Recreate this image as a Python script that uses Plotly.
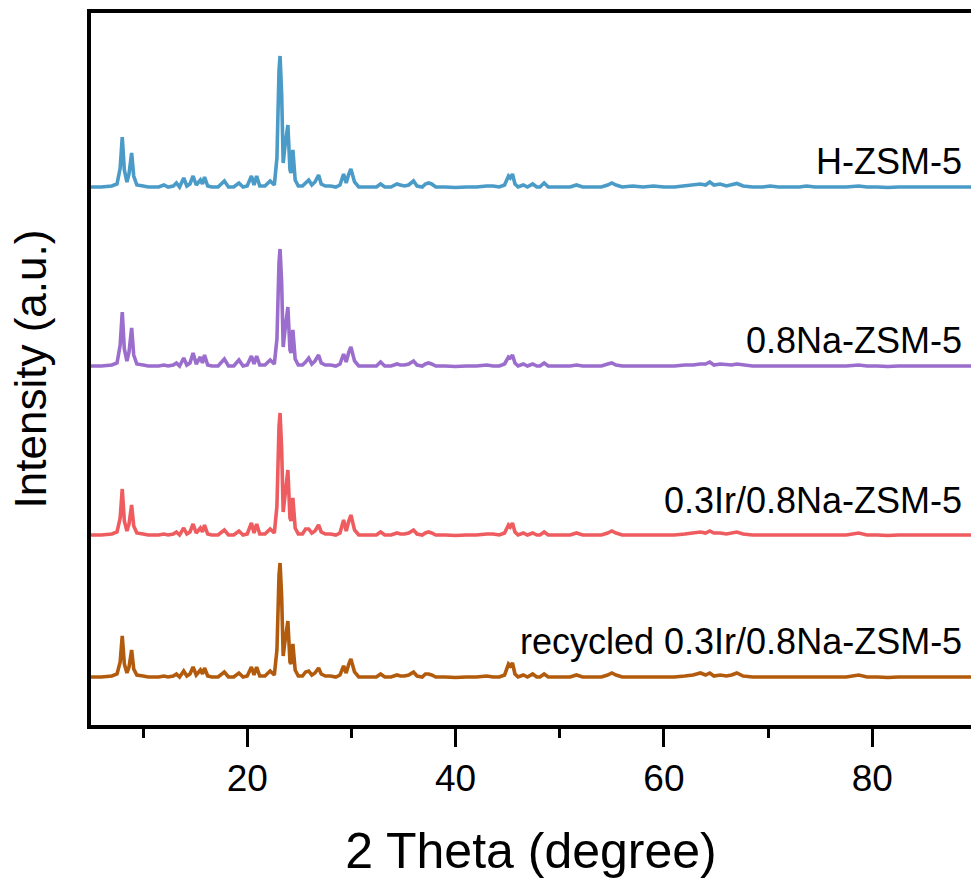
import plotly.graph_objects as go

# 2-theta grid (degrees) shared by all patterns
two_theta = [
    5.0, 6.0, 7.0, 7.5, 7.8, 8.0, 8.2, 8.45, 8.65, 8.9,
    9.1, 9.4, 10.0, 10.5, 11.0, 11.5, 12.0, 12.4, 12.9, 13.2,
    13.5, 13.9, 14.2, 14.5, 14.8, 15.1, 15.5, 15.7, 15.9, 16.2,
    16.6, 17.2, 17.8, 18.2, 18.7, 19.2, 19.6, 20.0, 20.4, 20.65,
    20.9, 21.2, 21.7, 22.2, 22.6, 22.85, 23.05, 23.15, 23.3, 23.45,
    23.6, 23.9, 24.1, 24.2, 24.38, 24.6, 24.9, 25.3, 25.6, 25.9,
    26.2, 26.5, 26.85, 27.1, 27.5, 28.0, 28.5, 28.9, 29.25, 29.5,
    29.75, 29.95, 30.3, 30.7, 31.3, 32.0, 32.4, 32.8, 33.2, 33.8,
    34.0, 34.37, 34.7, 35.1, 35.5, 35.96, 36.3, 36.8, 37.1, 37.4,
    37.7, 38.1, 39.0, 40.0, 41.0, 42.0, 43.0, 43.6, 44.2, 44.7,
    45.08, 45.25, 45.46, 45.7, 46.0, 46.5, 46.9, 47.4, 47.8, 48.1,
    48.5, 48.9, 49.5, 50.2, 51.0, 51.6, 52.2, 53.0, 54.0, 54.6,
    55.0, 55.4, 56.0, 57.0, 58.0, 59.0, 60.0, 61.0, 62.0, 62.8,
    63.5, 64.0, 64.4, 64.8, 65.4, 66.0, 66.5, 67.0, 67.6, 68.5,
    69.5, 70.2, 71.0, 72.0, 73.0, 73.7, 74.5, 75.5, 76.5, 77.5,
    78.7, 79.5, 80.5, 81.5, 82.5, 83.5, 84.5, 85.5, 86.5, 87.5,
    88.5, 89.5, 90.0,
]

# Intensities (a.u.)
int_h_zsm5 = [
    1, 1, 2, 4, 20, 51, 18, 6, 14, 35,
    12, 3, 2, 1, 1, 1, 3, 1, 2, 5,
    1, 10, 2, 4, 12, 3, 8, 4, 11, 2,
    1, 1, 7, 1, 1, 5, 1, 2, 12, 3,
    12, 2, 2, 7, 3, 30, 118, 132, 95, 25,
    40, 63, 18, 15, 38, 8, 2, 2, 5, 8,
    3, 6, 13, 4, 2, 2, 1, 3, 14, 5,
    14, 19, 6, 1, 1, 1, 1, 4, 1, 1,
    2, 4, 3, 2, 3, 7, 2, 1, 4, 5,
    4, 1, 1, 0.5, 1, 1, 2, 2, 1, 3,
    12, 10, 14, 4, 1, 3, 1, 4, 1, 1,
    5, 1, 1, 1, 1, 3, 1, 1, 1, 3,
    5, 3, 1, 2, 1, 2, 1, 1, 2, 3,
    4, 3, 6, 3, 4, 2, 3, 4.5, 2, 1,
    1, 2, 1, 1, 1, 2, 1, 1, 1, 1,
    2, 1, 1, 0.5, 1, 1, 1, 0.5, 1, 1,
    1, 1, 1,
]
int_na_zsm5 = [
    1, 1, 2, 4, 22, 55, 18, 6, 15, 39,
    12, 3, 2, 1, 1, 1, 2, 1, 2, 4,
    1, 9, 2, 4, 14, 3, 10, 4, 12, 2,
    1, 1, 8, 1, 1, 7, 1, 2, 11, 3,
    11, 2, 2, 7, 3, 28, 105, 118, 85, 20,
    35, 60, 17, 14, 37, 8, 2, 2, 5, 9,
    3, 6, 12, 4, 2, 2, 1, 3, 13, 5,
    15, 20, 6, 1, 1, 1, 1, 5, 1, 1,
    2, 3, 2, 2, 3, 6, 2, 1, 3, 4,
    3, 1, 1, 0.5, 1, 1, 2, 1, 1, 3,
    10, 9, 12, 4, 1, 3, 1, 3, 1, 1,
    4, 1, 1, 1, 1, 2, 1, 1, 1, 3,
    4, 2, 1, 1, 1, 1, 1, 1, 2, 2,
    3, 3, 5, 2, 3, 2, 2, 3, 2, 1,
    1, 1, 1, 1, 1, 1, 1, 1, 1, 1,
    2, 1, 1, 0.5, 1, 1, 1, 0.5, 1, 1,
    1, 1, 1,
]
int_ir_na_zsm5 = [
    1, 1, 2, 4, 18, 47, 15, 5, 12, 31,
    10, 3, 2, 1, 1, 1, 2, 1, 2, 4,
    1, 8, 2, 4, 12, 3, 8, 4, 11, 2,
    1, 1, 6, 1, 1, 5, 1, 2, 13, 3,
    12, 2, 2, 7, 3, 30, 110, 123, 88, 24,
    38, 66, 18, 15, 38, 8, 2, 2, 7, 7,
    3, 5, 11, 4, 2, 2, 1, 3, 16, 5,
    15, 21, 6, 1, 1, 1, 1, 4, 1, 1,
    2, 3, 2, 2, 3, 6, 2, 1, 3, 4,
    3, 1, 1, 0.5, 1, 1, 2, 2, 1, 3,
    11, 9, 13, 4, 1, 3, 1, 3, 1, 1,
    4, 1, 1, 1, 1, 3, 1, 1, 1, 3,
    5, 3, 1, 1, 1, 1, 1, 1, 2, 3,
    4, 3, 5, 3, 3, 2, 3, 4, 2, 1,
    1, 1, 1, 1, 1, 1, 1, 1, 1, 1,
    3, 1, 1, 0.5, 1, 1, 1, 0.5, 1, 1,
    1, 1, 1,
]
int_recycled = [
    1, 1, 2, 4, 16, 42, 14, 5, 11, 28,
    9, 3, 2, 1, 1, 1, 2, 1, 2, 4,
    1, 7, 2, 4, 11, 3, 8, 4, 10, 2,
    1, 1, 6, 1, 1, 5, 1, 2, 11, 3,
    11, 2, 2, 7, 3, 28, 103, 115, 82, 22,
    35, 57, 16, 14, 34, 8, 2, 2, 6, 7,
    3, 5, 10, 4, 2, 2, 1, 3, 12, 5,
    14, 19, 6, 1, 1, 1, 1, 4, 1, 1,
    2, 3, 2, 2, 3, 6, 2, 1, 4, 4,
    3, 1, 1, 0.5, 1, 1, 2, 1, 1, 3,
    14, 12, 15, 4, 1, 3, 1, 4, 1, 1,
    4, 1, 1, 1, 1, 3, 1, 1, 1, 3,
    5, 3, 1, 1, 1, 1, 1, 1, 2, 3,
    5, 3, 5, 2, 3, 2, 3, 5, 2, 1,
    1, 1, 1, 1, 1, 1, 1, 1, 1, 1,
    3, 1, 1, 0.5, 1, 1, 1, 0.5, 1, 1,
    1, 1, 1,
]

labels = ["H-ZSM-5", "0.8Na-ZSM-5", "0.3Ir/0.8Na-ZSM-5", "recycled 0.3Ir/0.8Na-ZSM-5"]
series = [int_h_zsm5, int_na_zsm5, int_ir_na_zsm5, int_recycled]
offsets = [537, 358, 189, 47]          # vertical stacking offsets (a.u.)
label_pos = [564, 385, 225, 84]        # label heights (a.u.)
colors = ["#4A9BC7", "#9B6DCD", "#EE5C60", "#B35B0D"]

x_ticks = [20, 40, 60, 80]

fig = go.Figure()
for name, ys, off, col in zip(labels, series, offsets, colors):
    fig.add_trace(go.Scatter(
        x=two_theta, y=[v + off for v in ys], mode="lines", name=name,
        line=dict(color=col, width=3.6), showlegend=False,
    ))

for name, ly in zip(labels, label_pos):
    fig.add_annotation(
        x=0.9925, xref="paper", y=ly, yref="y", text=name, showarrow=False,
        xanchor="right", yanchor="middle",
        font=dict(family="Liberation Sans, Arial", size=36, color="black"),
    )

fig.update_layout(
    width=971, height=881,
    margin=dict(l=91, r=0, t=13, b=156),
    paper_bgcolor="white", plot_bgcolor="white",
    font=dict(family="Liberation Sans, Arial", color="black"),
    xaxis=dict(
        range=[5, 89.48], tickvals=x_ticks, ticks="outside", ticklen=18, tickwidth=3,
        tickcolor="black", showline=True, linewidth=3.5, linecolor="black", mirror=True,
        showgrid=False, zeroline=False, tickfont=dict(size=37),
        minor=dict(tickvals=[10, 30, 50, 70, 90], ticks="outside", ticklen=9, tickwidth=3, tickcolor="black"),
        title=dict(text="2 Theta (degree)", font=dict(size=50), standoff=36),
    ),
    yaxis=dict(
        range=[0, 712], showticklabels=False, ticks="", showline=True, linewidth=3.5,
        linecolor="black", mirror=False, showgrid=False, zeroline=False,
        title=dict(text="Intensity (a.u.)", font=dict(size=44), standoff=28),
    ),
)

fig.write_html("out.html")
